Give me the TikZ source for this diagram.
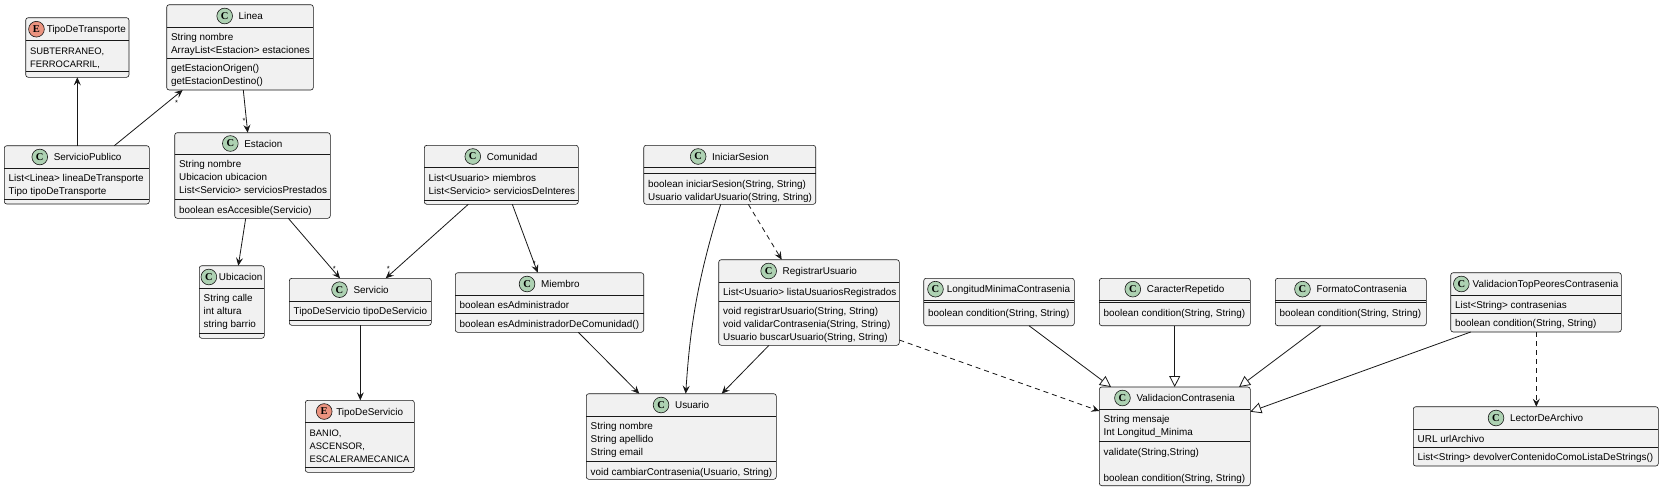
\documentclass[tikz,border=0pt]{standalone}
\usepackage{fontspec}
\setmainfont{Liberation Sans}
\newfontfamily\iconfont{Liberation Serif}
\usetikzlibrary{arrows.meta,calc}
\definecolor{boxfill}{HTML}{F1F1F1}
\definecolor{ink}{HTML}{181818}
\definecolor{cicon}{HTML}{ADD1B2}
\definecolor{eicon}{HTML}{EB937F}
\newcommand\umlfont{\fontsize{9.9}{13}\selectfont}
\newcommand\capsfont{\fontsize{9.4}{13}\selectfont}
\tikzset{
 classbox/.style={draw=ink, fill=boxfill, line width=0.6pt, rounded corners=2.5pt, inner sep=0pt, outer sep=0pt, anchor=north west},
 sepline/.style={draw=ink, line width=0.6pt},
 titletext/.style={inner sep=0pt, anchor=base, font=\umlfont},
 member/.style={inner sep=0pt, anchor=base west, font=\umlfont},
 iconC/.style={circle, draw=ink, line width=0.6pt, fill=cicon, minimum size=15.7pt, inner sep=0pt, font=\iconfont\bfseries\fontsize{10.5}{10.5}\selectfont},
 iconE/.style={iconC, fill=eicon},
 assoc/.style={draw=ink, line width=0.8pt, -{Stealth[length=8pt,width=7pt,inset=3pt]}},
 dep/.style={assoc, dash pattern=on 5pt off 4pt},
 inherit/.style={draw=ink, line width=0.8pt, -{Triangle[open,length=11pt,width=11pt,fill=white]}},
 mult/.style={inner sep=0pt, anchor=base, font=\fontsize{7.5}{7.5}\selectfont},
}
\def\tgap{6}
% #1 name, #2 x1, #3 y1, #4 x2, #5 y2, #6 sep1, #7 sep2, #8 title, #9 kind (C/E)
\newcommand\umlclass[9]{%
 \node[classbox, minimum width={#4-#2}, minimum height={#5-#3}] (#1) at (#2,#3) {};
 \draw[sepline] (#2,#6) -- (#4,#6);
 \draw[sepline] (#2,#7) -- (#4,#7);
 \node[titletext] (#1-title) at ({(#2+#4)/2+(15.7+\tgap)/2},{(#3+#6)/2+3.7}) {#8};
 \node[icon#9] (#1-icon) at ($(#1-title.base west)+({-\tgap-7.85},-3.7)$) {#9};
}
% #1 name prefix, #2 x, #3 first baseline, #4 list of lines
\newcommand\members[4]{%
 \foreach \mline [count=\k from 0] in {#4} {
   \node[member] (#1-\k) at (#2,{#3+\k*13}) {\mline};
 }}
\begin{document}
\begin{tikzpicture}[x=1pt,y=-1pt]
\path[use as bounding box, fill=white] (0,0) rectangle (1662,490);

% ---------- classes ----------
\def\tgap{2.3}
\umlclass{tdt}{25.7}{17.7}{129}{77.3}{40.7}{71}{TipoDeTransporte}{E}
\members{tdt-a}{29.9}{54.1}{{\capsfont SUBTERRANEO,},{\capsfont FERROCARRIL,}}

\def\tgap{6}
\umlclass{linea}{166.7}{4.7}{313.3}{90}{27.3}{58.3}{Linea}{C}
\members{linea-a}{170.9}{40.7}{{String nombre},{ArrayList<Estacion> estaciones}}
\members{linea-m}{170.9}{71.7}{{getEstacionOrigen()},{getEstacionDestino()}}

\umlclass{sp}{4.3}{145.7}{149.3}{204}{168.3}{199.3}{ServicioPublico}{C}
\members{sp-a}{8.5}{181.7}{{List<Linea> lineaDeTransporte},{Tipo tipoDeTransporte}}

\umlclass{est}{174.7}{132.7}{330.3}{218.3}{154.3}{199.7}{Estacion}{C}
\members{est-a}{178.9}{167.7}{{String nombre},{Ubicacion ubicacion},{List<Servicio> serviciosPrestados}}
\members{est-m}{178.9}{213.1}{{boolean esAccesible(Servicio)}}

\def\tgap{2}
\umlclass{ubi}{199.3}{265.7}{264.3}{338.3}{288.3}{333.3}{Ubicacion}{C}
\members{ubi-a}{203.5}{301.7}{{String calle},{int altura},{string barrio}}

\def\tgap{6}
\umlclass{serv}{289.3}{278.3}{431.3}{325.3}{301}{320}{Servicio}{C}
\members{serv-a}{293.5}{314.4}{{TipoDeServicio tipoDeServicio}}

\def\tgap{4}
\umlclass{tds}{305.3}{400.3}{414.3}{472.3}{422.7}{467.7}{TipoDeServicio}{E}
\members{tds-a}{309.5}{436.1}{{\capsfont BANIO,},{\capsfont ASCENSOR,},{\capsfont ESCALERAMECANICA}}

\def\tgap{6}
\umlclass{com}{424.3}{145.3}{578.3}{204.3}{167.7}{200}{Comunidad}{C}
\members{com-a}{428.5}{181.1}{{List<Usuario> miembros},{List<Servicio> serviciosDeInteres}}

\umlclass{mie}{455.3}{272.7}{643.7}{332.3}{295.3}{313.7}{Miembro}{C}
\members{mie-a}{459.5}{308.7}{{boolean esAdministrador}}
\members{mie-m}{459.5}{327.1}{{boolean esAdministradorDeComunidad()}}

\umlclass{ini}{643.7}{145.3}{815.7}{204.3}{167.7}{173.7}{IniciarSesion}{C}
\members{ini-m}{647.9}{187.1}{{boolean iniciarSesion(String, String)},{Usuario validarUsuario(String, String)}}

\umlclass{reg}{718.7}{259.7}{899.3}{345.3}{282.3}{301}{RegistrarUsuario}{C}
\members{reg-a}{722.9}{295.7}{{List<Usuario> listaUsuariosRegistrados}}
\members{reg-m}{722.9}{314.4}{{void registrarUsuario(String, String)},{void validarContrasenia(String, String)},{Usuario buscarUsuario(String, String)}}

\umlclass{usu}{586.3}{393.7}{776.3}{479.3}{416.3}{461.7}{Usuario}{C}
\members{usu-a}{590.5}{429.7}{{String nombre},{String apellido},{String email}}
\members{usu-m}{590.5}{475.1}{{void cambiarContrasenia(Usuario, String)}}

\def\tgap{3.4}
\umlclass{lon}{923.7}{278.3}{1074.3}{325.7}{300}{302.7}{LongitudMinimaContrasenia}{C}
\members{lon-m}{927.9}{316.1}{{boolean condition(String, String)}}

\def\tgap{6}
\umlclass{car}{1099.3}{278.3}{1250.3}{325.7}{300}{302.7}{CaracterRepetido}{C}
\members{car-m}{1103.5}{316.1}{{boolean condition(String, String)}}

\umlclass{fmt}{1275.3}{278.3}{1426.3}{325.7}{300}{302.7}{FormatoContrasenia}{C}
\members{fmt-m}{1279.5}{316.1}{{boolean condition(String, String)}}

\umlclass{val}{1099.3}{387}{1250.3}{485.7}{409}{441.3}{ValidacionContrasenia}{C}
\members{val-a}{1103.5}{422.4}{{String mensaje},{Int Longitud\_Minima}}
\members{val-m}{1103.5}{455.2}{{validate(String,String)},{},{boolean condition(String, String)}}

\def\tgap{3.3}
\umlclass{top}{1450.7}{272.7}{1621.3}{332}{295.3}{313.3}{ValidacionTopPeoresContrasenia}{C}
\members{top-a}{1454.9}{308.7}{{List<String> contrasenias}}
\members{top-m}{1454.9}{326.7}{{boolean condition(String, String)}}

\def\tgap{6}
\umlclass{lec}{1413.3}{406.7}{1658.3}{466}{429.3}{447}{LectorDeArchivo}{C}
\members{lec-a}{1417.5}{442.7}{{URL urlArchivo}}
\members{lec-m}{1417.5}{460.4}{{List<String> devolverContenidoComoListaDeStrings()}}

% ---------- connectors ----------
\draw[assoc] ($(sp.north west)+(73,0)$) -- ($(tdt.south west)+(51.6,0)$);
\draw[assoc] ($(sp.north west)+(110,0)$) -- ($(linea.south west)+(16,0)$);
\node[mult] (m1) at (176.7,105.7) {*};
\draw[assoc] ($(linea.south west)+(76.6,0)$) -- ($(est.north west)+(73,0)$);
\node[mult] (m2) at (244.2,123.5) {*};
\draw[assoc] ($(est.south west)+(71,0)$) -- ($(ubi.north west)+(39,0)$);
\draw[assoc] ($(est.south west)+(113.6,0)$) -- ($(serv.north west)+(50.7,0)$);
\node[mult] (m3) at (334.3,271.4) {*};
\draw[assoc] ($(com.south west)+(44,0)$) -- ($(serv.north west)+(96.4,0)$);
\node[mult] (m4) at (388.3,271.4) {*};
\draw[assoc] ($(com.south west)+(88,0)$) -- ($(mie.north west)+(82.4,0)$);
\node[mult] (m5) at (534.3,266.7) {*};
\draw[assoc] ($(serv.south west)+(71,0)$) -- ($(tds.north west)+(55,0)$);
\draw[assoc] ($(mie.south west)+(123,0)$) -- ($(usu.north west)+(53,0)$);
\draw[assoc] ($(ini.south west)+(77,0)$) .. controls +(-25,80) and +(4,-60) .. ($(usu.north west)+(99.4,0)$);
\draw[dep] ($(ini.south west)+(104.6,0)$) -- ($(reg.north west)+(63,0)$);
\draw[assoc] ($(reg.south west)+(50.3,0)$) -- ($(usu.north west)+(135.4,0)$);
\draw[dep] ($(reg.south east)+(0,-5.3)$) -- ($(val.north west)+(0,24)$);
\draw[inherit] ($(lon.south west)+(105.3,0)$) -- ($(val.north west)+(11.7,0)$);
\draw[inherit] ($(car.south west)+(75.4,0)$) -- ($(val.north west)+(75.4,0)$);
\draw[inherit] ($(fmt.south west)+(45.4,0)$) -- ($(val.north west)+(139.7,0)$);
\draw[inherit] ($(top.south west)+(20,0)$) -- ($(val.north east)+(0,24.7)$);
\draw[dep] ($(top.south west)+(85.6,0)$) -- ($(lec.north west)+(123,0)$);
\end{tikzpicture}
\end{document}
